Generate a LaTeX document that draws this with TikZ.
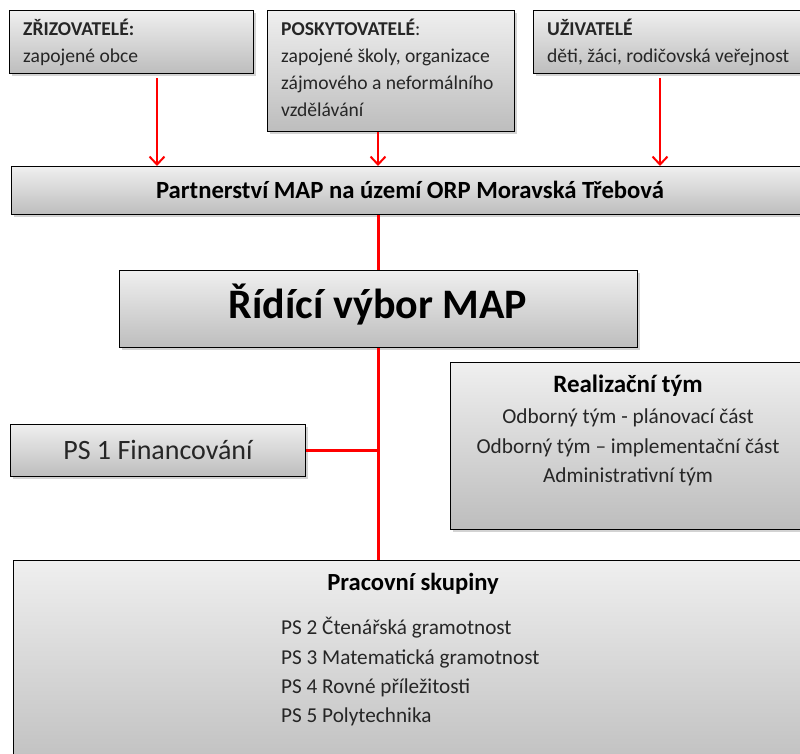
\documentclass[tikz,border=0pt]{standalone}
\usepackage{fontspec}
\setmainfont{Carlito}
\usetikzlibrary{arrows.meta,shadows}
\definecolor{boxtop}{HTML}{EFEFEF}
\definecolor{boxbot}{HTML}{BDBDBD}
\definecolor{linkred}{HTML}{FF0000}
\tikzset{
  box/.style={draw=black, line width=1.4pt, top color=boxtop, bottom color=boxbot,
    drop shadow={opacity=0.35, shadow xshift=2pt, shadow yshift=-2pt},
    anchor=north west, inner sep=0pt},
  lbl/.style={anchor=base west, inner sep=0pt, text=black!85},
  ctr/.style={anchor=base, inner sep=0pt, text=black!85},
  small/.style={font=\fontsize{19.6}{22}\selectfont},
  smallb/.style={font=\fontsize{19.6}{22}\selectfont\bfseries},
  arr/.style={draw=linkred, line width=2pt, -{Straight Barb[length=8pt,width=15pt,line width=2pt]}},
  link/.style={draw=linkred, line width=3pt}
}
\begin{document}
\begin{tikzpicture}[x=1pt,y=-1pt]
\useasboundingbox (0,0) rectangle (800,754);
\clip (0,0) rectangle (800,754);
% top boxes
\node[box, minimum width=244pt, minimum height=63pt] (zriz) at (9,10) {};
\node[lbl, smallb] (zrizA) at (23,36) {ZŘIZOVATELÉ:};
\node[lbl, small] (zrizB) at (23,63) {zapojené obce};

\node[box, minimum width=247pt, minimum height=121pt] (posk) at (267,10) {};
\node[lbl, smallb] (poskA) at (281,36) {POSKYTOVATELÉ\textmd{:}};
\node[lbl, small] (poskB) at (281,63) {zapojené školy, organizace};
\node[lbl, small] (poskC) at (281,90) {zájmového a neformálního};
\node[lbl, small] (poskD) at (281,117) {vzdělávání};

\node[box, minimum width=290pt, minimum height=63pt] (uziv) at (533,10) {};
\node[lbl, smallb] (uzivA) at (547,36) {UŽIVATELÉ};
\node[lbl, small] (uzivB) at (547,63) {děti, žáci, rodičovská veřejnost};

% partnership
\node[box, minimum width=820pt, minimum height=48pt] (part) at (11,166) {};
\node[ctr, font=\fontsize{24.7}{28}\selectfont\bfseries, text=black] (partT) at (410,198) {Partnerství MAP na území ORP Moravská Třebová};

% steering committee
\node[box, minimum width=518pt, minimum height=77pt] (ridici) at (119,270) {};
\node[ctr, font=\fontsize{42}{48}\selectfont\bfseries, text=black] (ridiciT) at (378,318) {Řídící výbor MAP};

% PS1
\node[box, minimum width=295pt, minimum height=52pt] (ps1) at (10,424) {};
\node[ctr, font=\fontsize{28}{32}\selectfont] (ps1T) at (158,459) {PS 1 Financování};

% realization team
\node[box, minimum width=354pt, minimum height=167pt] (real) at (450,362) {};
\node[ctr, font=\fontsize{25}{28}\selectfont\bfseries, text=black] (realA) at (628,392) {Realizační tým};
\node[ctr, font=\fontsize{21.3}{24}\selectfont] (realB) at (628,423) {Odborný tým - plánovací část};
\node[ctr, font=\fontsize{21.3}{24}\selectfont] (realC) at (628,453) {Odborný tým – implementační část};
\node[ctr, font=\fontsize{21.3}{24}\selectfont] (realD) at (628,482) {Administrativní tým};

% working groups
\node[box, minimum width=800pt, minimum height=220pt] (prac) at (13,560) {};
\node[ctr, font=\fontsize{24.6}{28}\selectfont\bfseries, text=black] (pracA) at (413,590) {Pracovní skupiny};
\node[lbl, font=\fontsize{21.2}{24}\selectfont] (pracB) at (281,634) {PS 2 Čtenářská gramotnost};
\node[lbl, font=\fontsize{21.2}{24}\selectfont] (pracC) at (281,664) {PS 3 Matematická gramotnost};
\node[lbl, font=\fontsize{21.2}{24}\selectfont] (pracD) at (281,693) {PS 4 Rovné příležitosti};
\node[lbl, font=\fontsize{21.2}{24}\selectfont] (pracE) at (281,722) {PS 5 Polytechnika};

% connectors
\coordinate (zs) at ([yshift=-4pt]zriz.south -| 157,0);
\draw[arr] (zs) -- (zs |- part.north);
\coordinate (ps) at (378,0);
\draw[arr] (ps |- posk.south) -- (ps |- part.north);
\coordinate (us) at ([yshift=-4pt]uziv.south -| 660,0);
\draw[arr] (us) -- (us |- part.north);
\draw[link] (ps |- part.south) -- (ps |- ridici.north);
\draw[link] (ps |- ridici.south) -- (ps |- prac.north);
\draw[link] (ps1.east) -- (ps1.east -| ps);
\end{tikzpicture}
\end{document}
